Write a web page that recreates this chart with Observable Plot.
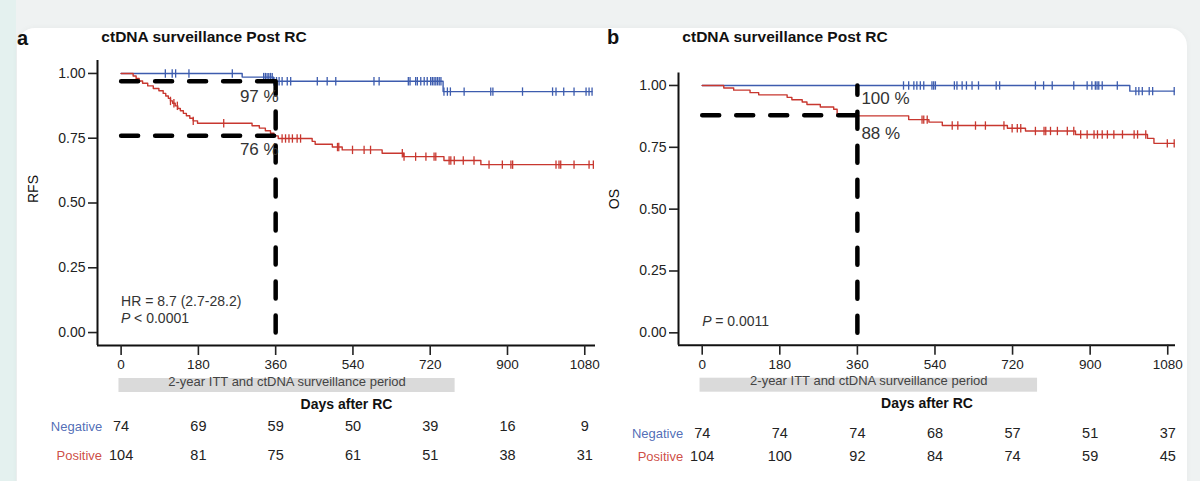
<!DOCTYPE html>
<html>
<head>
<meta charset="utf-8">
<script src="https://cdn.jsdelivr.net/npm/d3@7"></script>
<script src="https://cdn.jsdelivr.net/npm/@observablehq/plot@0.6"></script>
<style>
  body { margin: 0; width: 1200px; height: 481px; overflow: hidden; position: relative;
         background: #eff2f2; font-family: "Liberation Sans", Arial, Helvetica, sans-serif; }
  .strip { position: absolute; left: 0; top: 0; width: 16px; height: 481px; background: #e4f1ef; }
  .card { position: absolute; left: 17px; top: 28px; width: 1170px; height: 480px; background: #fff;
          border-radius: 18px; box-shadow: 0 0 6px rgba(0,0,0,0.04); }
  .panel { position: absolute; top: 50px; }
  .letter { position: absolute; font-weight: bold; font-size: 20px; color: #111; transform: translate(0, -50%); }
  .title { position: absolute; font-weight: bold; font-size: 15.5px; color: #111; white-space: nowrap;
           transform: translate(-50%, -50%); }
</style>
</head>
<body>
<div class="strip"></div>
<div class="card"></div>
<div class="letter" style="left:17px; top:38px">a</div>
<div class="title" style="left:204px; top:37px">ctDNA surveillance Post RC</div>
<div class="letter" style="left:607px; top:37px">b</div>
<div class="title" style="left:785px; top:37px">ctDNA surveillance Post RC</div>
<div id="panelA" class="panel" style="left:0px"></div>
<div id="panelB" class="panel" style="left:600px"></div>
<script>
// ---- Data ----------------------------------------------------------------
const groups = ["Negative", "Positive"];
const colors = ["#3d5cae", "#c8372f"];
const xTicks = [0, 180, 360, 540, 720, 900, 1080];
const yTicks = [0, 0.25, 0.5, 0.75, 1];
const xTitle = "Days after RC";
const bandText = "2-year ITT and ctDNA surveillance period";
const bandDays = [-5, 778];

// Relapse-free survival: [day, survival after the event]
const rfsNegEvents = [[282, 0.986], [355, 0.970], [750, 0.930]];
const rfsNegCensored = [103, 119, 127, 158, 259, 332, 336, 340, 344, 348, 352, 356, 362, 368, 375, 387, 395,
  457, 480, 500, 589, 601, 669, 673, 686, 690, 698, 706, 713, 721, 725, 729, 733, 737, 741, 745,
  752, 760, 767, 799, 861, 866, 935, 1005, 1013, 1031, 1055, 1083, 1090, 1097];
const rfsPosEvents = [[28, 0.990], [35, 0.981], [42, 0.971], [50, 0.962], [62, 0.952], [75, 0.942],
  [88, 0.933], [98, 0.923], [104, 0.913], [110, 0.904], [115, 0.894], [120, 0.885], [126, 0.875],
  [132, 0.865], [138, 0.856], [145, 0.846], [152, 0.837], [160, 0.827], [168, 0.817], [178, 0.808],
  [305, 0.798], [322, 0.789], [336, 0.779], [348, 0.769], [356, 0.759], [366, 0.749],
  [445, 0.738], [452, 0.727], [492, 0.716], [515, 0.705], [608, 0.692], [658, 0.679],
  [752, 0.664], [838, 0.648]];
const rfsPosCensored = [115, 123, 131, 168, 239, 375, 383, 391, 399, 410, 418, 504, 507, 539, 566, 581,
  655, 659, 686, 710, 729, 733, 764, 768, 776, 797, 822, 857, 888, 908, 912,
  1013, 1020, 1024, 1055, 1090, 1100];

// Overall survival
const osNegEvents = [[992, 0.977]];
const osNegCensored = [467, 479, 491, 498, 506, 514, 533, 537, 541, 585, 591, 603, 613, 626, 641, 682, 690,
  773, 792, 812, 862, 893, 904, 912, 916, 920, 928, 963, 1006, 1013, 1021, 1037, 1045, 1095];
const osPosEvents = [[50, 0.990], [73, 0.981], [111, 0.971], [131, 0.962], [197, 0.952], [208, 0.942],
  [232, 0.933], [243, 0.923], [274, 0.913], [305, 0.904], [313, 0.877],
  [479, 0.862], [526, 0.852], [557, 0.838], [708, 0.827], [750, 0.816], [866, 0.802],
  [1033, 0.786], [1048, 0.766]];
const osPosCensored = [510, 514, 522, 580, 593, 634, 657, 700, 719, 731, 739, 773, 793, 797, 808, 824, 847,
  862, 878, 893, 909, 917, 928, 940, 955, 975, 1002, 1010, 1029, 1079, 1095];

// Landmark estimates at day 360
const landmarkDay = 360;
const rfsLandmark = [0.97, 0.76];
const osLandmark = [1.00, 0.88];

// Numbers at risk
const rfsAtRiskNeg = [74, 69, 59, 50, 39, 16, 9];
const rfsAtRiskPos = [104, 81, 75, 61, 51, 38, 31];
const osAtRiskNeg = [74, 74, 74, 68, 57, 51, 37];
const osAtRiskPos = [104, 100, 92, 84, 74, 59, 45];

// ---- Helpers ---------------------------------------------------------------
function survivalAt(events, t) {
  let s = 1;
  for (const [et, es] of events) if (et <= t) s = es;
  return s;
}
function stepPoints(events, censored) {
  const end = Math.max(censored[censored.length - 1], events[events.length - 1][0]);
  return [[0, 1], ...events, [end, survivalAt(events, end)]];
}
// vertical bar symbol for censoring marks
const censorTick = {
  draw(ctx, size) {
    const r = Math.sqrt(size / Math.PI);
    ctx.moveTo(0, -r);
    ctx.lineTo(0, r);
  }
};

function drawPanel(cfg) {
  const height = 431;
  const frameH = height - cfg.marginTop - cfg.marginBottom;
  const textColor = "#222";
  const marks = [
    // surveillance period band under the axis
    Plot.rect([bandDays], {x1: d => d[0], x2: d => d[1], fill: "#dadada",
      insetTop: frameH + 33, insetBottom: -47}),
    Plot.text([bandText], {x: () => (bandDays[0] + bandDays[1]) / 2, text: d => d, frameAnchor: "bottom",
      dy: 40, fontSize: 13, fill: "#444"}),
    // axes
    Plot.ruleX([cfg.xDomain[0]], {stroke: "#111", strokeWidth: 2}),
    Plot.ruleY([-0.05], {stroke: "#111", strokeWidth: 2}),
    Plot.axisY(yTicks, {tickSize: 9, tickPadding: 3, tickFormat: d3.format(".2f"), fontSize: 14,
      strokeWidth: 1.6, label: null}),
    Plot.axisX(xTicks, {tickSize: 10, tickPadding: 4, tickFormat: d => String(d), fontSize: 13.5,
      strokeWidth: 1.6, label: null}),
    Plot.text([xTitle], {frameAnchor: "bottom", text: d => d, dy: 63, fontWeight: "bold", fontSize: 14, fill: "#111"}),
    Plot.text([cfg.yLabel], {frameAnchor: "left", text: d => d, rotate: -90, dx: -64, fontSize: 14, fill: "#111"}),
  ];
  // survival curves with censoring marks
  cfg.curves.forEach((c, i) => {
    marks.push(Plot.line(stepPoints(c.events, c.censored), {x: d => d[0], y: d => d[1], curve: "step-after",
      stroke: colors[i], strokeWidth: 1.4}));
    marks.push(Plot.dot(c.censored, {x: d => d, y: d => survivalAt(c.events, d), symbol: censorTick, r: 4.2,
      stroke: colors[i], strokeWidth: 1.3, fill: "none"}));
  });
  // landmark guides
  const dash = {stroke: "#000", strokeWidth: 4.5, strokeDasharray: "17,17"};
  cfg.guides.h.forEach(v => marks.push(Plot.line([[0, v], [landmarkDay, v]], {x: d => d[0], y: d => d[1], ...dash})));
  marks.push(Plot.line([[landmarkDay, 0], [landmarkDay, cfg.guides.vTop]], {x: d => d[0], y: d => d[1], ...dash}));
  cfg.pct.forEach(p => marks.push(Plot.text([p], {x: () => landmarkDay, y: d => d.v,
    text: d => `${Math.round(d.v * 100)} %`, textAnchor: p.anchor, dx: p.dx, dy: p.dy, fontSize: 17, fill: "#333"})));
  // statistics
  cfg.notes.forEach(n => marks.push(Plot.text([n], {x: () => 0, y: d => d.y, text: d => d.text, textAnchor: "start",
    dx: n.dx || 0, fontSize: 14, fill: "#333", fontStyle: n.italic ? "italic" : "normal"})));
  // numbers at risk
  cfg.risk.forEach((counts, i) => {
    marks.push(Plot.text(xTicks, {x: d => d, text: (d, j) => counts[j], frameAnchor: "bottom", dy: cfg.riskDy[i],
      fontSize: 14.5, fill: textColor}));
    marks.push(Plot.text([groups[i]], {x: () => 0, text: d => d, frameAnchor: "bottom", dy: cfg.riskDy[i],
      textAnchor: "end", dx: -19, fontSize: 13, fill: colors[i], fillOpacity: 0.9}));
  });

  const plot = Plot.plot({
    width: 600, height,
    marginTop: cfg.marginTop, marginBottom: cfg.marginBottom, marginLeft: cfg.marginLeft, marginRight: cfg.marginRight,
    x: {domain: cfg.xDomain},
    y: {domain: [-0.05, 1.05]},
    style: {fontFamily: '"Liberation Sans", Arial, Helvetica, sans-serif', color: "#222", background: "transparent", overflow: "visible"},
    marks
  });
  document.getElementById(cfg.id).appendChild(plot);
}

drawPanel({
  id: "panelA", yLabel: "RFS",
  marginTop: 10, marginBottom: 136, marginLeft: 97, marginRight: 5,
  xDomain: [-55, 1105],
  curves: [{events: rfsNegEvents, censored: rfsNegCensored}, {events: rfsPosEvents, censored: rfsPosCensored}],
  guides: {h: rfsLandmark, vTop: rfsLandmark[0]},
  pct: [{v: rfsLandmark[0], anchor: "end", dx: 3, dy: 15}, {v: rfsLandmark[1], anchor: "end", dx: 3, dy: 14}],
  notes: [{text: "HR = 8.7 (2.7-28.2)", y: 0.118}, {text: "P", y: 0.054, italic: true}, {text: "< 0.0001", y: 0.054, dx: 13}],
  risk: [rfsAtRiskNeg, rfsAtRiskPos], riskDy: [85, 114]
});

drawPanel({
  id: "panelB", yLabel: "OS",
  marginTop: 22.6, marginBottom: 136.3, marginLeft: 78, marginRight: 25,
  xDomain: [-55, 1098],
  curves: [{events: osNegEvents, censored: osNegCensored}, {events: osPosEvents, censored: osPosCensored}],
  guides: {h: [osLandmark[1]], vTop: osLandmark[0]},
  pct: [{v: osLandmark[0], anchor: "start", dx: 4, dy: 13}, {v: osLandmark[1], anchor: "start", dx: 4, dy: 18}],
  notes: [{text: "P", y: 0.047, italic: true}, {text: "= 0.0011", y: 0.047, dx: 13}],
  risk: [osAtRiskNeg, osAtRiskPos], riskDy: [93, 116]
});
</script>
</body>
</html>
